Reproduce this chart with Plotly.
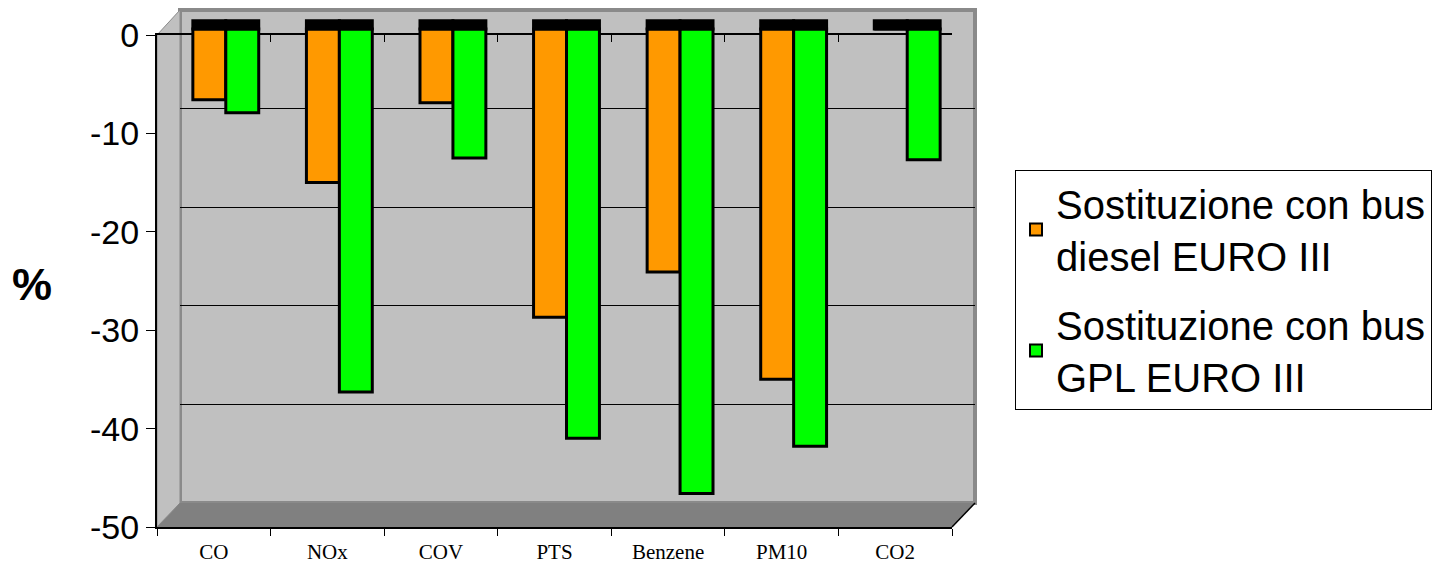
import plotly.graph_objects as go

# ---------------- data ----------------
CATEGORIES = ["CO", "NOx", "COV", "PTS", "Benzene", "PM10", "CO2"]
DIESEL = [-7.2, -15.6, -7.5, -29.3, -24.7, -35.6, 0.0]
GPL = [-8.5, -36.9, -13.1, -41.6, -47.2, -42.4, -13.3]
SERIES_NAMES = ["Sostituzione con bus<br>diesel EURO III",
                "Sostituzione con bus<br>GPL EURO III"]
Y_TICKS = [0, -10, -20, -30, -40, -50]
Y_TICK_LABELS = ["0", "-10", "-20", "-30", "-40", "-50"]
GRID_VALUES = [-10, -20, -30, -40]

# ---------------- style / geometry ----------------
W, H = 1448, 566
PAGE_OFFSET = 8          # page body margin of the viewer, compensated
CAP_DEPTH = 0.9          # height of the black 3-D top cap (value units)
Y_MIN, Y_MAX = -50, 0


def px_x(x):
    return (x - PAGE_OFFSET) / W


def px_y(y):
    return (H - (y - PAGE_OFFSET)) / H


# front plane (axes), back wall, mid-depth (bars) in screen pixels
FRONT = dict(l=157, r=952, t=35, b=527)
BACK = dict(l=180, r=975, t=10, b=503)
MID = dict(l=169, r=964, t0=29, b=521)  # t0 = position of value 0
mid_top = MID["t0"] - (MID["b"] - MID["t0"]) / (Y_MAX - Y_MIN) * CAP_DEPTH * 1.1

ORANGE = "#FF9900"
GREEN = "#00FF00"
WALL = "#C0C0C0"
FLOOR = "#808080"

fig = go.Figure()

# invisible helper traces so that every axis pair is drawn
fig.add_trace(go.Scatter(x=CATEGORIES, y=[None] * len(CATEGORIES), mode="none",
                         showlegend=False, hoverinfo="skip", xaxis="x", yaxis="y"))
fig.add_trace(go.Scatter(x=CATEGORIES, y=[None] * len(CATEGORIES), mode="none",
                         showlegend=False, hoverinfo="skip", xaxis="x4", yaxis="y"))
fig.add_trace(go.Scatter(x=[0, 1], y=[None, None], mode="none",
                         showlegend=False, hoverinfo="skip", xaxis="x2", yaxis="y2"))

# bars
fig.add_trace(go.Bar(x=CATEGORIES, y=DIESEL, name=SERIES_NAMES[0], legendgroup="d",
                     marker=dict(color=ORANGE, line=dict(color="black", width=3)),
                     offsetgroup="d", xaxis="x3", yaxis="y3", hoverinfo="x+y"))
fig.add_trace(go.Bar(x=CATEGORIES, y=GPL, name=SERIES_NAMES[1], legendgroup="g",
                     marker=dict(color=GREEN, line=dict(color="black", width=3)),
                     offsetgroup="g", xaxis="x3", yaxis="y3", hoverinfo="x+y"))
# black 3-D top caps
for grp in ("d", "g"):
    fig.add_trace(go.Bar(x=CATEGORIES, y=[CAP_DEPTH] * len(CATEGORIES), base=0,
                         marker=dict(color="black", line=dict(color="black", width=3)),
                         offsetgroup=grp, legendgroup=grp, xaxis="x3", yaxis="y3",
                         showlegend=False, hoverinfo="skip"))


def path(points):
    return "M " + " L ".join(f"{px_x(x):.5f},{px_y(y):.5f}" for x, y in points) + " Z"


shapes = [
    # back wall
    dict(type="rect", xref="paper", yref="paper",
         x0=px_x(BACK["l"]), x1=px_x(BACK["r"]), y0=px_y(BACK["b"]), y1=px_y(BACK["t"]),
         fillcolor=WALL, line=dict(color="#8A8A8A", width=4), layer="below"),
    # left wall
    dict(type="path", xref="paper", yref="paper",
         path=path([(FRONT["l"], FRONT["t"]), (BACK["l"], BACK["t"]),
                    (BACK["l"], BACK["b"]), (FRONT["l"], FRONT["b"])]),
         fillcolor=WALL, line=dict(color="#8A8A8A", width=1), layer="below"),
    # floor
    dict(type="path", xref="paper", yref="paper",
         path=path([(FRONT["l"], FRONT["b"]), (BACK["l"], BACK["b"]),
                    (BACK["r"], BACK["b"]), (FRONT["r"], FRONT["b"])]),
         fillcolor=FLOOR, line=dict(width=0), layer="below"),
    dict(type="line", xref="paper", yref="paper",
         x0=px_x(FRONT["r"]), y0=px_y(FRONT["b"]), x1=px_x(BACK["r"]), y1=px_y(BACK["b"]),
         line=dict(color="black", width=1.5), layer="above"),
]

fig.update_layout(
    template="none",
    width=W, height=H, autosize=False,
    margin=dict(l=0, r=0, t=0, b=0, pad=0),
    paper_bgcolor="white", plot_bgcolor="rgba(0,0,0,0)",
    barmode="group", bargap=0.42, bargroupgap=0.0,
    shapes=shapes,
    font=dict(family="Liberation Sans, Arial, sans-serif", color="black"),
    xaxis=dict(domain=[px_x(FRONT["l"]), px_x(FRONT["r"])], anchor="y",
               type="category", categoryarray=CATEGORIES, categoryorder="array",
               range=[-0.5, len(CATEGORIES) - 0.5], automargin=False,
               showline=True, linecolor="black", linewidth=1.5,
               ticks="outside", tickson="boundaries", ticklen=7, tickcolor="black",
               tickfont=dict(family="Liberation Serif, Times New Roman, serif", size=21),
               ticklabelstandoff=5,
               showgrid=False, zeroline=False, fixedrange=True),
    xaxis4=dict(domain=[px_x(FRONT["l"]), px_x(FRONT["r"])], anchor="y",
                overlaying="x", side="top", automargin=False,
                type="category", categoryarray=CATEGORIES, categoryorder="array",
                range=[-0.5, len(CATEGORIES) - 0.5],
                showline=True, linecolor="black", linewidth=1.5,
                ticks="inside", tickson="boundaries", ticklen=7, tickcolor="black",
                showticklabels=False, showgrid=False, zeroline=False),
    yaxis=dict(domain=[px_y(FRONT["b"]), px_y(FRONT["t"])], anchor="x",
               range=[Y_MIN, Y_MAX], tickvals=Y_TICKS, ticktext=Y_TICK_LABELS,
               automargin=False,
               showline=True, linecolor="black", linewidth=2,
               ticks="outside", ticklen=9, tickcolor="black",
               tickfont=dict(size=34), ticklabelstandoff=0,
               showgrid=False, zeroline=False),
    xaxis2=dict(domain=[px_x(BACK["l"]), px_x(BACK["r"])], anchor="y2",
                range=[0, 1], visible=False, automargin=False),
    yaxis2=dict(domain=[px_y(BACK["b"]), px_y(BACK["t"])], anchor="x2",
                range=[Y_MIN, Y_MAX], tickvals=GRID_VALUES, showticklabels=False,
                ticks="", showgrid=True, gridcolor="black", gridwidth=1,
                showline=False, zeroline=False, automargin=False),
    xaxis3=dict(domain=[px_x(MID["l"]), px_x(MID["r"])], anchor="y3",
                type="category", categoryarray=CATEGORIES, categoryorder="array",
                range=[-0.5, len(CATEGORIES) - 0.5], visible=False, automargin=False),
    yaxis3=dict(domain=[px_y(MID["b"]), px_y(mid_top)], anchor="x3",
                range=[Y_MIN, CAP_DEPTH * 1.1], visible=False, automargin=False),
    legend=dict(x=px_x(1015), xanchor="left", y=px_y(290), yanchor="middle",
                bgcolor="white", bordercolor="black", borderwidth=1,
                font=dict(size=40, family="Liberation Sans, Arial, sans-serif"),
                traceorder="grouped", tracegroupgap=14, itemsizing="constant"),
    annotations=[dict(text="<b>%</b>", xref="paper", yref="paper",
                      x=px_x(32), y=px_y(284), xanchor="center", yanchor="middle",
                      showarrow=False, font=dict(size=45))],
    showlegend=True,
)

fig.write_html("out.html")
